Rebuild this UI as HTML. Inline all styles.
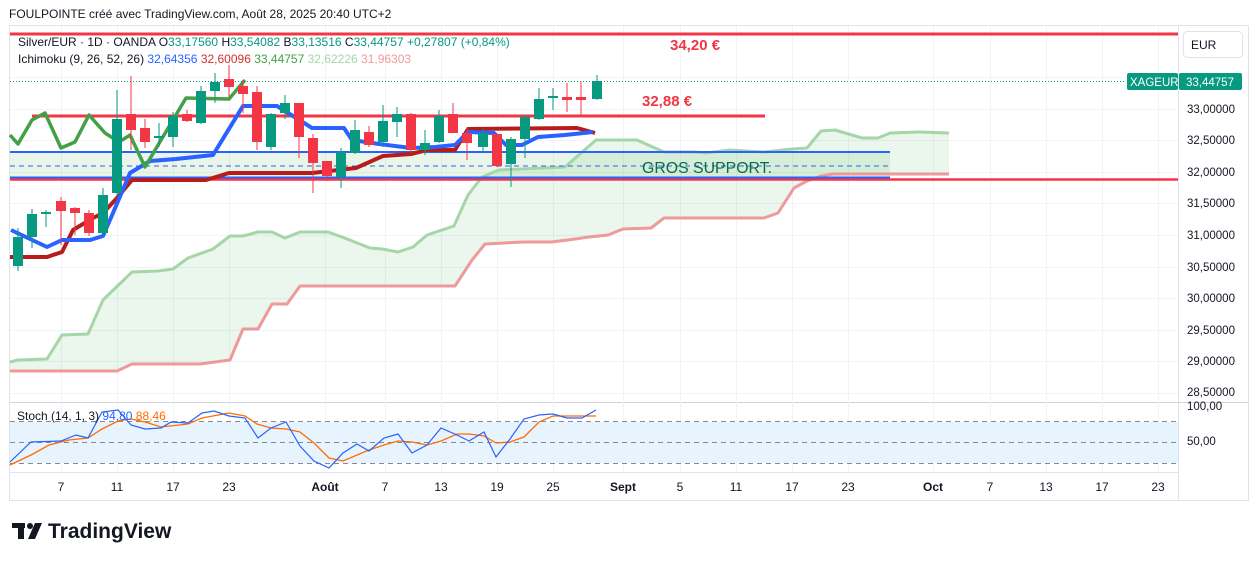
<!DOCTYPE html>
<html><head><meta charset="utf-8"><style>
html,body{margin:0;padding:0;background:#fff;}
body{width:1257px;height:561px;overflow:hidden;font-family:"Liberation Sans",sans-serif;}
svg text{font-family:"Liberation Sans",sans-serif;}
</style></head><body>
<svg width="1257" height="561" viewBox="0 0 1257 561" xmlns="http://www.w3.org/2000/svg">
<rect x="0" y="0" width="1257" height="561" fill="#fff"/>
<text x="9" y="18" font-size="12" fill="#131722">FOULPOINTE créé avec TradingView.com, Août 28, 2025 20:40 UTC+2</text>
<rect x="9.5" y="25.5" width="1239" height="475" fill="none" stroke="#e0e3eb"/>
<line x1="1178.5" y1="26" x2="1178.5" y2="500" stroke="#e0e3eb"/>
<line x1="10" y1="472.5" x2="1178" y2="472.5" stroke="#e0e3eb"/>
<line x1="10" y1="402.5" x2="1248" y2="402.5" stroke="#d1d4dc"/>
<g stroke="#f0f3fa" stroke-width="1">
<line x1="10" y1="109.5" x2="1178" y2="109.5"/><line x1="10" y1="140.5" x2="1178" y2="140.5"/><line x1="10" y1="172.5" x2="1178" y2="172.5"/><line x1="10" y1="203.5" x2="1178" y2="203.5"/><line x1="10" y1="235.5" x2="1178" y2="235.5"/><line x1="10" y1="267.5" x2="1178" y2="267.5"/><line x1="10" y1="298.5" x2="1178" y2="298.5"/><line x1="10" y1="330.5" x2="1178" y2="330.5"/><line x1="10" y1="361.5" x2="1178" y2="361.5"/><line x1="10" y1="393.5" x2="1178" y2="393.5"/><line x1="10" y1="77.5" x2="1178" y2="77.5"/>
<line x1="61.5" y1="26" x2="61.5" y2="472"/><line x1="117.5" y1="26" x2="117.5" y2="472"/><line x1="173.5" y1="26" x2="173.5" y2="472"/><line x1="229.5" y1="26" x2="229.5" y2="472"/><line x1="325.5" y1="26" x2="325.5" y2="472"/><line x1="385.5" y1="26" x2="385.5" y2="472"/><line x1="441.5" y1="26" x2="441.5" y2="472"/><line x1="497.5" y1="26" x2="497.5" y2="472"/><line x1="553.5" y1="26" x2="553.5" y2="472"/><line x1="623.5" y1="26" x2="623.5" y2="472"/><line x1="680.5" y1="26" x2="680.5" y2="472"/><line x1="736.5" y1="26" x2="736.5" y2="472"/><line x1="792.5" y1="26" x2="792.5" y2="472"/><line x1="848.5" y1="26" x2="848.5" y2="472"/><line x1="933.5" y1="26" x2="933.5" y2="472"/><line x1="990.5" y1="26" x2="990.5" y2="472"/><line x1="1046.5" y1="26" x2="1046.5" y2="472"/><line x1="1102.5" y1="26" x2="1102.5" y2="472"/><line x1="1158.5" y1="26" x2="1158.5" y2="472"/>
</g>
<polygon fill="rgba(76,175,80,0.11)" points="10,362 18,360 47,359 62,335 88,334 103,300 132,272 158,271 173,269 188,258 213,249 230,236 243,236 258,232 272,232 285,238 300,232 328,232 342,237 370,248 382,249 398,252 413,247 427,235 454,226 468,195 482,177 499,170 565,167 596,140 637,140 664,152 695,152 706,153 730,150 764,152 792,149 807,148 821,131 835,130 862,138 878,138 890,133 919,132 949,133 949,174 833,174 821,176 807,181 794,188 778,213 764,218 664,218 651,228 623,229 608,235 589,237 568,240 551,242 523,242 485,244 472,260 455,286 300,286 287,304 272,304 258,329 243,329 230,360 200,364 132,364 117,371 10,371"/>
<rect x="10" y="152" width="880" height="26" fill="rgba(76,175,80,0.13)"/>
<polyline fill="none" stroke="#a5d6a7" stroke-width="3" stroke-linejoin="round" points="10,362 18,360 47,359 62,335 88,334 103,300 132,272 158,271 173,269 188,258 213,249 230,236 243,236 258,232 272,232 285,238 300,232 328,232 342,237 370,248 382,249 398,252 413,247 427,235 454,226 468,195 482,177 499,170 565,167 596,140 637,140 664,152 695,152 706,153 730,150 764,152 792,149 807,148 821,131 835,130 862,138 878,138 890,133 919,132 949,133"/>
<polyline fill="none" stroke="#ef9a9a" stroke-width="3" stroke-linejoin="round" points="10,371 117,371 132,364 200,364 230,360 243,329 258,329 272,304 287,304 300,286 455,286 472,260 485,244 523,242 551,242 568,240 589,237 608,235 623,229 651,228 664,218 764,218 778,213 794,188 807,181 821,176 833,174 949,174"/>
<line x1="10" y1="34" x2="1178" y2="34" stroke="#f23645" stroke-width="3"/>
<line x1="32" y1="116" x2="765" y2="116" stroke="#f23645" stroke-width="3"/>
<line x1="10" y1="152" x2="890" y2="152" stroke="#2962ff" stroke-width="2"/>
<line x1="10" y1="166" x2="890" y2="166" stroke="#2962ff" stroke-width="1" stroke-dasharray="5,4"/>
<line x1="10" y1="179.5" x2="1178" y2="179.5" stroke="#f23645" stroke-width="2.5"/>
<line x1="10" y1="177.5" x2="890" y2="177.5" stroke="#2962ff" stroke-width="2"/>
<line x1="10" y1="81.5" x2="1125" y2="81.5" stroke="#089981" stroke-width="1" stroke-dasharray="1,2"/>
<text x="670" y="50" font-size="15" font-weight="bold" fill="#f23645">34,20 €</text>
<text x="642" y="106" font-size="15" font-weight="bold" fill="#f23645">32,88 €</text>
<text x="642" y="173" font-size="16" fill="#0b6b47" textLength="130" lengthAdjust="spacingAndGlyphs">GROS SUPPORT.</text>
<polyline fill="none" stroke="#b71c1c" stroke-width="4" stroke-linejoin="round" points="10,257 47,257 62,252 73,230 93,218 103,213 117,198 132,180 206,180 229,173 312,173 356,168 383,156 411,154 427,150 455,150 468,129 577,128 595,133"/>
<polyline fill="none" stroke="#2962ff" stroke-width="4" stroke-linejoin="round" points="11,230 47,247 62,240 90,240 103,236 113,213 127,180 130,173 150,161 176,159 213,155 243,106 277,106 312,128 344,128 352,140 379,144 411,148 435,147 455,145 468,132 494,133 506,145 522,145 538,137 565,135 593,132"/>
<polyline fill="none" stroke="#43a047" stroke-width="3.5" stroke-linejoin="round" points="10,135 18,144 32,120 45,113 61,148 75,142 89,115 105,133 119,142 130,135 145,167 186,98 229,99 245,80"/>
<g stroke-width="1">
<line x1="18" y1="228" x2="18" y2="271" stroke="#089981"/><rect x="13" y="237" width="10" height="29" fill="#089981"/>
<line x1="32" y1="209" x2="32" y2="248" stroke="#089981"/><rect x="27" y="214" width="10" height="23" fill="#089981"/>
<line x1="46" y1="210" x2="46" y2="227" stroke="#089981"/><rect x="41" y="212" width="10" height="2" fill="#089981"/>
<line x1="61" y1="197" x2="61" y2="245" stroke="#f23645"/><rect x="56" y="201" width="10" height="10" fill="#f23645"/>
<line x1="75" y1="207" x2="75" y2="235" stroke="#f23645"/><rect x="70" y="208" width="10" height="5" fill="#f23645"/>
<line x1="89" y1="210" x2="89" y2="236" stroke="#f23645"/><rect x="84" y="213" width="10" height="20" fill="#f23645"/>
<line x1="103" y1="188" x2="103" y2="235" stroke="#089981"/><rect x="98" y="195" width="10" height="38" fill="#089981"/>
<line x1="117" y1="90" x2="117" y2="195" stroke="#089981"/><rect x="112" y="119" width="10" height="74" fill="#089981"/>
<line x1="131" y1="76" x2="131" y2="150" stroke="#f23645"/><rect x="126" y="114" width="10" height="16" fill="#f23645"/>
<line x1="145" y1="119" x2="145" y2="148" stroke="#f23645"/><rect x="140" y="128" width="10" height="14" fill="#f23645"/>
<line x1="159" y1="123" x2="159" y2="147" stroke="#089981"/><rect x="154" y="136" width="10" height="2" fill="#089981"/>
<line x1="173" y1="112" x2="173" y2="147" stroke="#089981"/><rect x="168" y="116" width="10" height="21" fill="#089981"/>
<line x1="187" y1="110" x2="187" y2="122" stroke="#f23645"/><rect x="182" y="114" width="10" height="7" fill="#f23645"/>
<line x1="201" y1="86" x2="201" y2="124" stroke="#089981"/><rect x="196" y="91" width="10" height="32" fill="#089981"/>
<line x1="215" y1="73" x2="215" y2="103" stroke="#089981"/><rect x="210" y="82" width="10" height="9" fill="#089981"/>
<line x1="229" y1="65" x2="229" y2="97" stroke="#f23645"/><rect x="224" y="79" width="10" height="8" fill="#f23645"/>
<line x1="243" y1="80" x2="243" y2="113" stroke="#f23645"/><rect x="238" y="86" width="10" height="8" fill="#f23645"/>
<line x1="257" y1="86" x2="257" y2="150" stroke="#f23645"/><rect x="252" y="92" width="10" height="50" fill="#f23645"/>
<line x1="271" y1="113" x2="271" y2="150" stroke="#089981"/><rect x="266" y="114" width="10" height="33" fill="#089981"/>
<line x1="285" y1="95" x2="285" y2="119" stroke="#089981"/><rect x="280" y="103" width="10" height="10" fill="#089981"/>
<line x1="299" y1="103" x2="299" y2="158" stroke="#f23645"/><rect x="294" y="103" width="10" height="34" fill="#f23645"/>
<line x1="313" y1="134" x2="313" y2="193" stroke="#f23645"/><rect x="308" y="138" width="10" height="25" fill="#f23645"/>
<line x1="327" y1="161" x2="327" y2="181" stroke="#f23645"/><rect x="322" y="161" width="10" height="15" fill="#f23645"/>
<line x1="341" y1="148" x2="341" y2="188" stroke="#089981"/><rect x="336" y="152" width="10" height="25" fill="#089981"/>
<line x1="355" y1="120" x2="355" y2="154" stroke="#089981"/><rect x="350" y="130" width="10" height="23" fill="#089981"/>
<line x1="369" y1="126" x2="369" y2="147" stroke="#f23645"/><rect x="364" y="132" width="10" height="13" fill="#f23645"/>
<line x1="383" y1="105" x2="383" y2="147" stroke="#089981"/><rect x="378" y="121" width="10" height="21" fill="#089981"/>
<line x1="397" y1="107" x2="397" y2="137" stroke="#089981"/><rect x="392" y="114" width="10" height="8" fill="#089981"/>
<line x1="411" y1="113" x2="411" y2="153" stroke="#f23645"/><rect x="406" y="114" width="10" height="36" fill="#f23645"/>
<line x1="425" y1="130" x2="425" y2="155" stroke="#089981"/><rect x="420" y="143" width="10" height="7" fill="#089981"/>
<line x1="439" y1="110" x2="439" y2="143" stroke="#089981"/><rect x="434" y="116" width="10" height="26" fill="#089981"/>
<line x1="453" y1="103" x2="453" y2="133" stroke="#f23645"/><rect x="448" y="114" width="10" height="19" fill="#f23645"/>
<line x1="467" y1="128" x2="467" y2="160" stroke="#f23645"/><rect x="462" y="133" width="10" height="10" fill="#f23645"/>
<line x1="483" y1="129" x2="483" y2="152" stroke="#089981"/><rect x="478" y="133" width="10" height="14" fill="#089981"/>
<line x1="497" y1="134" x2="497" y2="167" stroke="#f23645"/><rect x="492" y="134" width="10" height="32" fill="#f23645"/>
<line x1="511" y1="137" x2="511" y2="187" stroke="#089981"/><rect x="506" y="139" width="10" height="25" fill="#089981"/>
<line x1="525" y1="115" x2="525" y2="158" stroke="#089981"/><rect x="520" y="117" width="10" height="22" fill="#089981"/>
<line x1="539" y1="88" x2="539" y2="120" stroke="#089981"/><rect x="534" y="99" width="10" height="20" fill="#089981"/>
<line x1="553" y1="88" x2="553" y2="110" stroke="#089981"/><rect x="548" y="96" width="10" height="2" fill="#089981"/>
<line x1="567" y1="83" x2="567" y2="112" stroke="#f23645"/><rect x="562" y="97" width="10" height="3" fill="#f23645"/>
<line x1="581" y1="82" x2="581" y2="117" stroke="#f23645"/><rect x="576" y="97" width="10" height="3" fill="#f23645"/>
<line x1="597" y1="75" x2="597" y2="100" stroke="#089981"/><rect x="592" y="81" width="10" height="18" fill="#089981"/>
</g>
<text x="18" y="46" font-size="12" fill="#131722">Silver/EUR · 1D · OANDA <tspan>O</tspan><tspan fill="#089981">33,17560</tspan> H<tspan fill="#089981">33,54082</tspan> B<tspan fill="#089981">33,13516</tspan> C<tspan fill="#089981">33,44757</tspan> <tspan fill="#089981">+0,27807 (+0,84%)</tspan></text>
<text x="18" y="63" font-size="12" fill="#131722">Ichimoku (9, 26, 52, 26) <tspan fill="#2962ff">32,64356</tspan> <tspan fill="#d32f2f">32,60096</tspan> <tspan fill="#43a047">33,44757</tspan> <tspan fill="#a5d6a7">32,62226</tspan> <tspan fill="#ef9a9a">31,96303</tspan></text>
<rect x="1183.5" y="31.5" width="59" height="26" rx="4" fill="#fff" stroke="#e0e3eb"/>
<text x="1191" y="49" font-size="12" fill="#131722">EUR</text>
<g font-size="11.5" fill="#131722">
<text x="1187" y="113">33,00000</text><text x="1187" y="144">32,50000</text><text x="1187" y="176">32,00000</text><text x="1187" y="207">31,50000</text><text x="1187" y="239">31,00000</text><text x="1187" y="271">30,50000</text><text x="1187" y="302">30,00000</text><text x="1187" y="334">29,50000</text><text x="1187" y="365">29,00000</text><text x="1187" y="396">28,50000</text>
<text x="1187" y="410">100,00</text><text x="1187" y="445">50,00</text>
</g>
<rect x="1127" y="73" width="51" height="17" rx="2" fill="#089981"/>
<text x="1130" y="86" font-size="11.5" fill="#fff">XAGEUR</text>
<rect x="1179" y="73" width="63" height="17" rx="2" fill="#089981"/>
<text x="1186" y="86" font-size="11.5" fill="#fff">33,44757</text>
<rect x="10" y="422" width="1168" height="41" fill="#e3f2fd" opacity="0.85"/>
<g stroke="#868993" stroke-dasharray="5,4" stroke-width="1">
<line x1="10" y1="421.5" x2="1178" y2="421.5"/><line x1="10" y1="442.5" x2="1178" y2="442.5"/><line x1="10" y1="463.5" x2="1178" y2="463.5"/>
</g>
<polyline fill="none" stroke="#ff6d00" stroke-width="1.3" points="10,465 31,455 49,445 69,440 88,438 102,429 118,421 131,419 145,422 161,427 188,424 202,418 229,413 245,416 257,424 271,428 286,429 300,432 314,443 329,458 343,461 357,455 369,450 384,445 398,441 412,442 427,445 441,441 457,434 469,434 484,436 496,443 510,442 524,437 539,422 553,416 567,416 582,416 596,416"/>
<polyline fill="none" stroke="#2962ff" stroke-width="1.2" points="10,462 31,442 61,441 76,435 88,438 102,412 118,410 131,425 145,429 161,428 171,422 188,423 202,413 214,411 229,416 245,418 258,438 271,428 286,422 300,446 314,461 329,468 343,453 357,444 369,451 384,438 398,434 412,453 427,445 441,428 457,435 469,441 484,432 496,457 510,439 524,419 539,415 553,414 567,418 582,418 596,410"/>
<text x="17" y="420" font-size="12" fill="#131722">Stoch (14, 1, 3) <tspan fill="#2962ff">94,80</tspan> <tspan fill="#ff6d00">88,46</tspan></text>
<g font-size="12" fill="#131722" text-anchor="middle">
<text x="61" y="491">7</text><text x="117" y="491">11</text><text x="173" y="491">17</text><text x="229" y="491">23</text><text x="325" y="491" font-weight="bold">Août</text><text x="385" y="491">7</text><text x="441" y="491">13</text><text x="497" y="491">19</text><text x="553" y="491">25</text><text x="623" y="491" font-weight="bold">Sept</text><text x="680" y="491">5</text><text x="736" y="491">11</text><text x="792" y="491">17</text><text x="848" y="491">23</text><text x="933" y="491" font-weight="bold">Oct</text><text x="990" y="491">7</text><text x="1046" y="491">13</text><text x="1102" y="491">17</text><text x="1158" y="491">23</text>
</g>
<g fill="#131722">
<rect x="12" y="523" width="13" height="5"/><rect x="18" y="523" width="6" height="16"/>
<circle cx="30" cy="526" r="3"/><polygon points="35,523 42,523 35,539 28,539"/>
</g>
<text x="48" y="538" font-size="21" font-weight="bold" fill="#131722">TradingView</text>
</svg>
</body></html>
